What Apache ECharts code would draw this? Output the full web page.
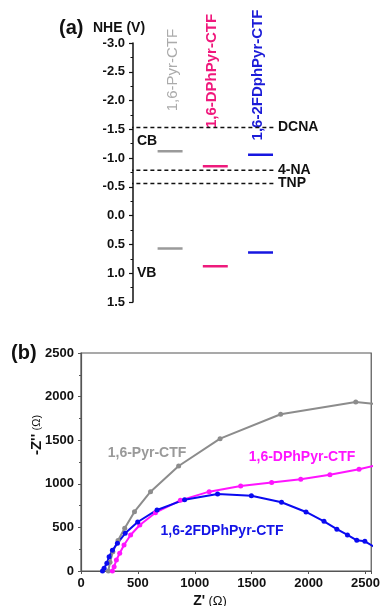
<!DOCTYPE html>
<html>
<head>
<meta charset="utf-8">
<script src="https://cdn.jsdelivr.net/npm/echarts@6/dist/echarts.min.js"></script>
<style>
  html, body { margin: 0; padding: 0; background: #fff; }
  #main { width: 383px; height: 606px; }
</style>
</head>
<body>
<div id="main"></div>
<script>
// (a) band positions vs NHE
var materials = ['1,6-Pyr-CTF', '1,6-DPhPyr-CTF', '1,6-2FDphPyr-CTF'];
var cbLevels = [-1.12, -0.86, -1.06];
var vbLevels = [0.57, 0.88, 0.64];
var refNames = ['DCNA', '4-NA', 'TNP'];
var refLevels = [-1.53, -0.79, -0.56];
var nheTicks = [-3.0, -2.5, -2.0, -1.5, -1.0, -0.5, 0.0, 0.5, 1.0, 1.5];

// (b) Nyquist plots
var pyrZ  = [240, 255, 280, 325, 384, 470, 611, 858, 1222, 1754, 2414, 2600];
var pyrZi = [0, 100, 220, 350, 490, 680, 910, 1204, 1518, 1797, 1938, 1915];
var dphZ  = [276, 291, 311, 340, 378, 436, 517, 654, 873, 1126, 1403, 1675, 1931, 2187, 2443, 2600];
var dphZi = [0, 50, 126, 203, 298, 413, 528, 669, 810, 910, 975, 1015, 1053, 1103, 1168, 1215];
var fdZ   = [189, 203, 227, 247, 276, 320, 388, 498, 668, 910, 1200, 1497, 1762, 1977, 2135, 2248, 2341, 2423, 2494, 2600];
var fdZi  = [0, 31, 88, 164, 237, 318, 432, 562, 700, 818, 882, 864, 788, 677, 570, 480, 413, 352, 340, 260];

var bandColors = ['#9a9a9a', '#ee1a7c', '#1616e0'];
var labelColors = ['#ababab', '#f0187c', '#1c1cd8'];
var FONT = 'Liberation Sans';
var hw = 0.276;

function pairs(xs, ys) {
  var out = [];
  for (var i = 0; i < xs.length; i++) out.push([xs[i], ys[i]]);
  return out;
}

var series = [];
for (var i = 0; i < materials.length; i++) {
  series.push({
    name: materials[i] + ' CB', type: 'line', xAxisIndex: 0, yAxisIndex: 0,
    data: [[i - hw, cbLevels[i]], [i + hw, cbLevels[i]]],
    symbol: 'none', lineStyle: { color: bandColors[i], width: 2.5 }, silent: true
  });
  series.push({
    name: materials[i] + ' VB', type: 'line', xAxisIndex: 0, yAxisIndex: 0,
    data: [[i - hw, vbLevels[i]], [i + hw, vbLevels[i]]],
    symbol: 'none', lineStyle: { color: bandColors[i], width: 2.5 }, silent: true
  });
}
for (var j = 0; j < refNames.length; j++) {
  series.push({
    name: refNames[j], type: 'line', xAxisIndex: 0, yAxisIndex: 0,
    data: [[-0.9, refLevels[j]], [2.32, refLevels[j]]],
    symbol: 'none', lineStyle: { color: '#111', width: 1.5, type: [4, 3] },
    endLabel: { show: true, formatter: refNames[j], distance: 3,
      fontFamily: FONT, fontWeight: 'bold', fontSize: 14, color: '#111' },
    clip: false, silent: true
  });
}

var nyq = [
  { name: '1,6-Pyr-CTF', x: pyrZ, y: pyrZi, color: '#8c8c8c' },
  { name: '1,6-DPhPyr-CTF', x: dphZ, y: dphZi, color: '#ff14ff' },
  { name: '1,6-2FDPhPyr-CTF', x: fdZ, y: fdZi, color: '#0a0af0' }
];
nyq.forEach(function (s) {
  series.push({
    name: s.name, type: 'line', xAxisIndex: 1, yAxisIndex: 1,
    data: pairs(s.x, s.y), symbol: 'circle', symbolSize: 5,
    itemStyle: { color: s.color }, lineStyle: { color: s.color, width: 2 },
    clip: true, silent: true
  });
});

var chart = echarts.init(document.getElementById('main'));
chart.setOption({
  backgroundColor: '#fff',
  animation: false,
  grid: [
    { left: 133, top: 43, width: 142, height: 259 },
    { left: 81, top: 353, width: 293, height: 218, show: true, borderColor: '#555', borderWidth: 1.2 }
  ],
  xAxis: [
    { gridIndex: 0, type: 'value', min: -0.82, max: 2.32, show: false },
    { gridIndex: 1, type: 'value', min: 0, max: 2550, interval: 500,
      axisLine: { onZero: false, lineStyle: { color: '#555', width: 1.2 } },
      axisTick: { show: true, length: 3, lineStyle: { color: '#555' } },
      splitLine: { show: false },
      axisLabel: { fontFamily: FONT, fontWeight: 'bold', fontSize: 13, color: '#111', margin: 6,
        formatter: function (v) { return v <= 2500 ? String(v) : ''; } } }
  ],
  yAxis: [
    { gridIndex: 0, type: 'value', min: -3, max: 1.5, interval: 0.5, inverse: true,
      axisLine: { show: true, onZero: false, lineStyle: { color: '#111', width: 1.5 } },
      axisTick: { show: true, length: 4, lineStyle: { color: '#111', width: 1.2 } },
      minorTick: { show: true, splitNumber: 2, length: 2.5, lineStyle: { color: '#111' } },
      splitLine: { show: false },
      axisLabel: { fontFamily: FONT, fontWeight: 'bold', fontSize: 13, color: '#111', margin: 8,
        formatter: function (v) { return v.toFixed(1); } } },
    { gridIndex: 1, type: 'value', min: 0, max: 2500, interval: 500,
      axisLine: { show: true, onZero: false, lineStyle: { color: '#555', width: 1.2 } },
      axisTick: { show: true, length: 3, lineStyle: { color: '#555' } },
      minorTick: { show: true, splitNumber: 2, length: 2, lineStyle: { color: '#555' } },
      splitLine: { show: false },
      axisLabel: { fontFamily: FONT, fontWeight: 'bold', fontSize: 13, color: '#111', margin: 7,
        formatter: function (v) { return String(v); } } }
  ],
  graphic: [
    { type: 'text', left: 59, top: 18, style: { text: '(a)', font: 'bold 20px "Liberation Sans"', fill: '#111' } },
    { type: 'text', left: 93, top: 21, style: { text: 'NHE (V)', font: 'bold 14px "Liberation Sans"', fill: '#111' } },
    { type: 'text', left: 137, top: 134, style: { text: 'CB', font: 'bold 14px "Liberation Sans"', fill: '#111' } },
    { type: 'text', left: 137, top: 266, style: { text: 'VB', font: 'bold 14px "Liberation Sans"', fill: '#111' } },
    { type: 'text', x: 173, y: 70, rotation: Math.PI / 2,
      style: { text: materials[0], font: '15px "Liberation Sans"', fill: labelColors[0], align: 'center', verticalAlign: 'middle' } },
    { type: 'text', x: 212, y: 71, rotation: Math.PI / 2,
      style: { text: materials[1], font: 'bold 15px "Liberation Sans"', fill: labelColors[1], align: 'center', verticalAlign: 'middle' } },
    { type: 'text', x: 258, y: 75, rotation: Math.PI / 2,
      style: { text: materials[2], font: 'bold 15px "Liberation Sans"', fill: labelColors[2], align: 'center', verticalAlign: 'middle' } },
    { type: 'text', left: 11, top: 343, style: { text: '(b)', font: 'bold 20px "Liberation Sans"', fill: '#111' } },
    { type: 'text', x: 37, y: 435, rotation: Math.PI / 2,
      style: { text: "{b|-Z''} {r|(Ω)}", align: 'center', verticalAlign: 'middle',
        rich: { b: { font: 'bold 15px "Liberation Sans"', fill: '#111' }, r: { font: '11px "Liberation Sans"', fill: '#111' } } } },
    { type: 'text', x: 210, y: 601,
      style: { text: "{b|Z'} {r|(Ω)}", align: 'center', verticalAlign: 'middle',
        rich: { b: { font: 'bold 14px "Liberation Sans"', fill: '#111' }, r: { font: '13px "Liberation Sans"', fill: '#111' } } } },
    { type: 'text', x: 147, y: 453,
      style: { text: '1,6-Pyr-CTF', font: 'bold 14px "Liberation Sans"', fill: '#999', align: 'center', verticalAlign: 'middle' } },
    { type: 'text', x: 302, y: 457,
      style: { text: '1,6-DPhPyr-CTF', font: 'bold 14px "Liberation Sans"', fill: '#ff14ff', align: 'center', verticalAlign: 'middle' } },
    { type: 'text', x: 222, y: 531,
      style: { text: '1,6-2FDPhPyr-CTF', font: 'bold 14px "Liberation Sans"', fill: '#1414e6', align: 'center', verticalAlign: 'middle' } }
  ],
  series: series
});
</script>
</body>
</html>
